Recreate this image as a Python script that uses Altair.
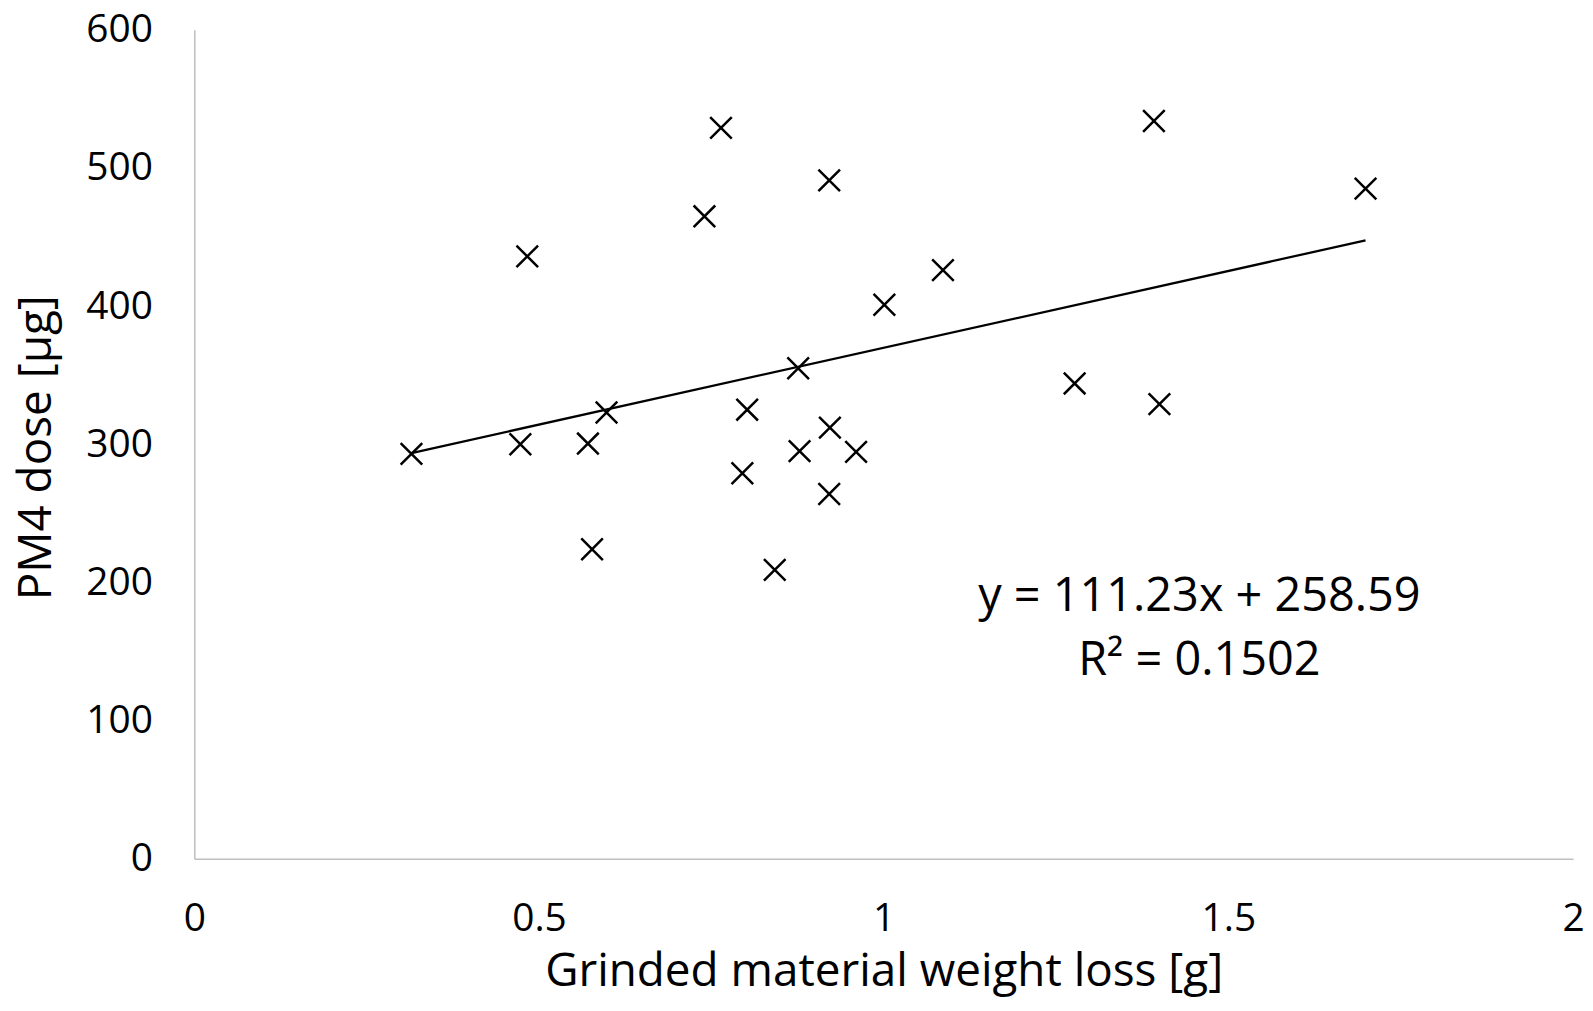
import altair as alt
import pandas as pd

# Scatter data
weight_loss = [0.315, 0.473, 0.483, 0.571, 0.577, 0.598, 0.740, 0.764, 0.795, 0.802,
               0.842, 0.876, 0.878, 0.921, 0.922, 0.921, 0.960, 1.001, 1.086, 1.277,
               1.392, 1.400, 1.699]
pm4_dose = [293, 300, 436, 300.5, 224, 323, 465, 529, 279, 325,
            209, 355, 295, 491, 312, 264, 294.5, 401, 426, 344,
            534, 329, 485]

# Trendline coefficients (printed on the chart)
slope = 111.23
intercept = 258.59
eq_lines = ["y = 111.23x + 258.59", "R\u00b2 = 0.1502"]
eq_x = [1.458, 1.458]
eq_y = [179.6, 132.7]

x_ticks = [0, 0.5, 1, 1.5, 2]
y_ticks = [0, 100, 200, 300, 400, 500, 600]

FONT = "Open Sans"

pts = pd.DataFrame({"x": weight_loss, "y": pm4_dose})
xmin, xmax = min(weight_loss), max(weight_loss)
trend = pd.DataFrame({"x": [xmin, xmax],
                      "y": [slope * xmin + intercept, slope * xmax + intercept]})
ann = pd.DataFrame({"x": eq_x, "y": eq_y, "t": eq_lines})

xscale = alt.Scale(domain=[0, 2], nice=False, zero=True)
yscale = alt.Scale(domain=[0, 600], nice=False)

xaxis = alt.Axis(values=x_ticks, format="~r", grid=False, ticks=False, tickSize=0,
                 domainColor="#BFBFBF", domainWidth=1.5,
                 labelFont=FONT, labelFontSize=39, labelColor="#000000",
                 labelPadding=41, labelFlush=False, labelOverlap=False,
                 title="Grinded material weight loss [g]",
                 titleFont=FONT, titleFontSize=46, titleFontWeight="normal",
                 titleColor="#000000", titleBaseline="alphabetic",
                 titleY=127, titleX=692)
yaxis = alt.Axis(values=y_ticks, format="d", grid=False, ticks=False, tickSize=0,
                 domainColor="#BFBFBF", domainWidth=1.5,
                 labelFont=FONT, labelFontSize=39, labelColor="#000000",
                 labelPadding=42, labelFlush=False, labelOverlap=False,
                 title="PM4 dose [\u00b5g]",
                 titleFont=FONT, titleFontSize=46, titleFontWeight="normal",
                 titleColor="#000000", titleBaseline="alphabetic",
                 titleAngle=-90, titleX=-144, titleY=419)

points = alt.Chart(pts).mark_point(
    shape="M-1,-1L1,1M-1,1L1,-1", size=470, filled=False,
    stroke="#000000", strokeWidth=2.5, opacity=1
).encode(
    x=alt.X("x:Q", scale=xscale, axis=xaxis),
    y=alt.Y("y:Q", scale=yscale, axis=yaxis),
)

line = alt.Chart(trend).mark_line(color="#000000", strokeWidth=2.25).encode(
    x=alt.X("x:Q", scale=xscale),
    y=alt.Y("y:Q", scale=yscale),
)

text = alt.Chart(ann).mark_text(
    font=FONT, fontSize=47, color="#000000", align="center", baseline="alphabetic"
).encode(
    x=alt.X("x:Q", scale=xscale),
    y=alt.Y("y:Q", scale=yscale),
    text="t:N",
)

chart = alt.layer(line, points, text).properties(
    width=1384, height=832,
    background="#ffffff",
    autosize=alt.AutoSizeParams(type="none"),
    padding={"left": 187, "top": 20, "right": 12, "bottom": 144},
).configure_view(strokeWidth=0, strokeOpacity=0)

chart.save("out.html", embed_options={"renderer": "svg", "actions": False})
